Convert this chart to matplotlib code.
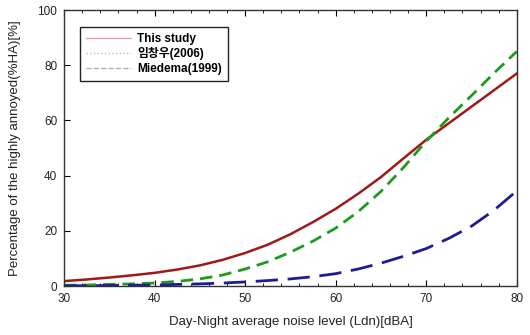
import matplotlib
matplotlib.use("Agg")
from matplotlib import pyplot as plt
from matplotlib.lines import Line2D
from matplotlib.ticker import MultipleLocator

plt.rcParams['font.family'] = ['Liberation Sans', 'Noto Sans CJK KR', 'DejaVu Sans']

ldn = [30, 32.5, 35, 37.5, 40, 42.5, 45, 47.5, 50, 52.5, 55, 57.5, 60,
       62.5, 65, 67.5, 70, 72.5, 75, 77.5, 80]
this_study = [1.8, 2.4, 3.1, 3.9, 4.8, 6.0, 7.5, 9.5, 12.0, 15.0, 18.8, 23.2, 28.0,
              33.5, 39.5, 46.3, 53.0, 59.0, 65.0, 71.0, 77.0]
lim2006 = [0.3, 0.4, 0.6, 0.8, 1.1, 1.7, 2.6, 4.0, 6.2, 8.8, 12.3, 16.3, 21.0,
           27.0, 34.3, 43.0, 52.5, 61.0, 69.0, 77.2, 85.0]
miedema = [0.1, 0.15, 0.2, 0.3, 0.4, 0.6, 0.8, 1.1, 1.5, 2.0, 2.6, 3.4, 4.5,
           6.2, 8.3, 10.8, 13.6, 17.3, 21.7, 27.5, 34.5]
labels = ["This study", "임창우(2006)", "Miedema(1999)"]

fig = plt.figure(figsize=(5.3, 3.35), dpi=100)
ax = fig.add_axes([0.121, 0.146, 0.854, 0.824])

ax.plot(ldn, this_study, color="#a01818", lw=1.8)
ax.plot(ldn, lim2006, color="#1f9a1f", lw=2.0, dashes=(4.5, 2.5))
ax.plot(ldn, miedema, color="#1c1c96", lw=2.0, dashes=(8, 3.5))

ax.set_xlim(30, 80)
ax.set_ylim(0, 100)
ax.xaxis.set_major_locator(MultipleLocator(10))
ax.xaxis.set_minor_locator(MultipleLocator(2))
ax.yaxis.set_major_locator(MultipleLocator(20))
ax.tick_params(which="both", direction="in", top=True, labelsize=8.5,
               labelcolor="#222222", pad=5)
ax.tick_params(which="major", length=4)
ax.tick_params(which="minor", length=2.5)
for s in ax.spines.values():
    s.set_linewidth(1.0)
    s.set_color("#333333")

ax.set_xlabel("Day-Night average noise level (Ldn)[dBA]", fontsize=9.5,
              color="#222222", labelpad=8)
ax.set_ylabel("Percentage of the highly annoyed(%HA)[%]", fontsize=9.5,
              color="#222222", labelpad=12)

# legend handles in the original are drawn pale
handles = [Line2D([], [], color="#e8a0b0", lw=1.0),
           Line2D([], [], color="#c0b8bc", lw=1.0, ls=":"),
           Line2D([], [], color="#b0b0b8", lw=1.0, ls="--")]
leg = ax.legend(handles, labels, loc="upper left", bbox_to_anchor=(0.035, 0.94),
                borderaxespad=0, fancybox=False, framealpha=1, edgecolor="#222222",
                prop={"weight": "bold", "size": 8.5}, handlelength=3.8,
                handletextpad=0.5, labelspacing=0.2, borderpad=0.55)
leg.get_frame().set_linewidth(1.0)

fig.savefig("out.png", dpi=100)
